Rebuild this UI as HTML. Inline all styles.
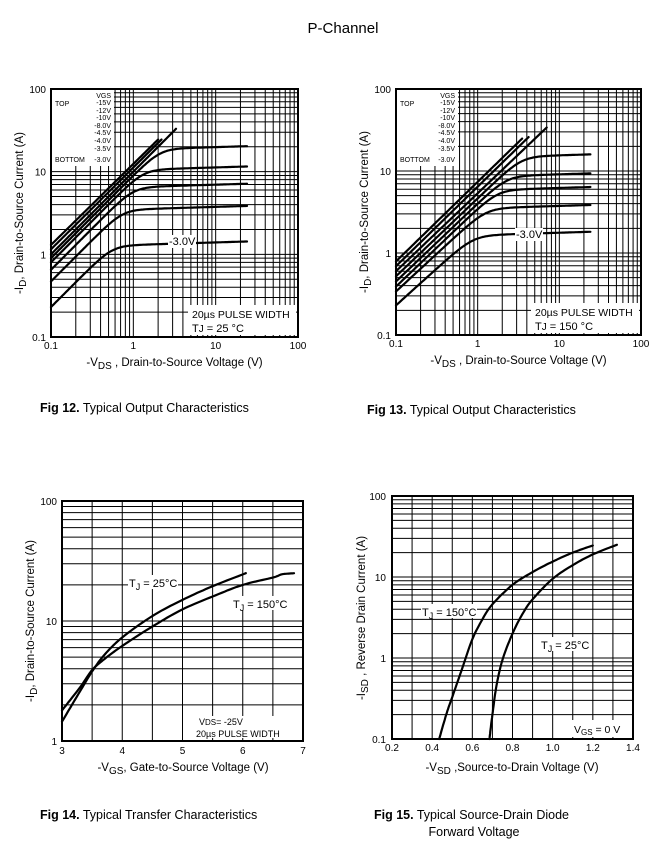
<!DOCTYPE html>
<html><head><meta charset="utf-8"><style>
html,body{margin:0;padding:0;background:#fff}
svg{display:block}
text{font-family:"Liberation Sans",Arial,sans-serif;fill:#000}
</style></head><body>
<svg id="s" width="664" height="862" viewBox="0 0 664 862" xmlns="http://www.w3.org/2000/svg"></svg>
<script>
const out=[];
const lg=Math.log10;
function line(x1,y1,x2,y2,w){out.push(`<line x1="${x1}" y1="${y1}" x2="${x2}" y2="${y2}" stroke="#000" stroke-width="${w||1}"/>`);}
function txt(x,y,s,size,anchor,extra){out.push(`<text x="${x}" y="${y}" font-size="${size}" text-anchor="${anchor||'start'}" ${extra||''}>${s}</text>`);}
function rect(x,y,w,h){out.push(`<rect x="${x}" y="${y}" width="${w}" height="${h}" fill="#fff"/>`);}
function logTicks(a,b){const r=[];for(let d=a;d<b*0.999;d*=10)for(let m=1;m<10;m++)r.push(d*m);r.push(b);return r;}
function mk(box,xl,xa,xb,yl,ya,yb){
 const fx=v=>xl?box[0]+(lg(v)-lg(xa))/(lg(xb)-lg(xa))*(box[2]-box[0]):box[0]+(v-xa)/(xb-xa)*(box[2]-box[0]);
 const fy=v=>yl?box[3]-(lg(v)-lg(ya))/(lg(yb)-lg(ya))*(box[3]-box[1]):box[3]-(v-ya)/(yb-ya)*(box[3]-box[1]);
 return {fx,fy};
}
function grid(box,c,xs,ys){
 xs.forEach(v=>{const x=c.fx(v);line(x,box[1],x,box[3],1);});
 ys.forEach(v=>{const y=c.fy(v);line(box[0],y,box[2],y,1);});
}
function frame(box){out.push(`<rect x="${box[0]}" y="${box[1]}" width="${box[2]-box[0]}" height="${box[3]-box[1]}" fill="none" stroke="#000" stroke-width="2"/>`);}
function poly(pts){out.push(`<polyline points="${pts.map(p=>p[0].toFixed(1)+','+p[1].toFixed(1)).join(' ')}" fill="none" stroke="#000" stroke-width="2.2" stroke-linejoin="round" stroke-linecap="round"/>`);}
function smooth(c,data){
 const P=data.map(d=>[c.fx(d[0]),c.fy(d[1])]);const pts=[];
 for(let i=0;i<P.length-1;i++){const p0=P[Math.max(i-1,0)],p1=P[i],p2=P[i+1],p3=P[Math.min(i+2,P.length-1)];
  for(let t=0;t<1;t+=0.1){const t2=t*t,t3=t2*t;
   pts.push([0.5*((2*p1[0])+(-p0[0]+p2[0])*t+(2*p0[0]-5*p1[0]+4*p2[0]-p3[0])*t2+(-p0[0]+3*p1[0]-3*p2[0]+p3[0])*t3),
             0.5*((2*p1[1])+(-p0[1]+p2[1])*t+(2*p0[1]-5*p1[1]+4*p2[1]-p3[1])*t2+(-p0[1]+3*p1[1]-3*p2[1]+p3[1])*t3)]);}}
 pts.push(P[P.length-1]);poly(pts);
}
function I(v,k,p,S){const lin=k*Math.pow(v/0.1,p);const n=5;const s=S*Math.pow(v,0.03);return lin/Math.pow(1+Math.pow(lin/s,n),1/n);}
function model(c,k,p,S,xend){
 const pts=[];for(let lx=-1;lx<=lg(xend)+1e-9;lx+=0.02){const v=Math.pow(10,lx);pts.push([c.fx(v),c.fy(I(v,k,p,S))]);}
 pts.push([c.fx(xend),c.fy(I(xend,k,p,S))]);
 poly(pts);
}
txt(343,33,"P-Channel",15,"middle");

function outChart(box,curves,legR,tjText,lblPos){
 const c=mk(box,true,0.1,100,true,0.1,100);
 grid(box,c,logTicks(0.1,100),logTicks(0.1,100));
 rect(box[0]+1,box[1]+1,legR-box[0]+2,76);
 curves.forEach(q=>model(c,q[0],q[1],q[2],q[3]));
 frame(box);
 txt(legR,98,"VGS",7,"end");
 const vals=["-15V","-12V","-10V","-8.0V","-4.5V","-4.0V","-3.5V"];
 const ys=[105,113,120,128,135,143,151];
 vals.forEach((v,i)=>txt(legR,ys[i],v,7,"end"));
 txt(legR,162,"-3.0V",7,"end");
 txt(box[0]+4,106,"TOP",7);
 txt(box[0]+4,162,"BOTTOM",7);
 rect(lblPos[0],lblPos[1]-10,28,13);
 txt(lblPos[0]+1,lblPos[1],"-3.0V",11);
 rect(box[2]-110,box[3]-32,108,30);
 txt(box[2]-106,box[3]-19,"20µs PULSE WIDTH",10.5);
 txt(box[2]-106,box[3]-5,tjText,11);
 [["100",0],["10",1],["1",2],["0.1",3]].forEach(a=>txt(box[0]-5,box[1]+4+a[1]*(box[3]-box[1])/3,a[0],10,"end"));
 [["0.1",0],["1",1],["10",2],["100",3]].forEach(a=>txt(box[0]+a[1]*(box[2]-box[0])/3,box[3]+12,a[0],10,"middle"));
 const cx=(box[0]+box[2])/2;
 txt(cx,box[3]+29,'-V<tspan font-size="10" dy="3">DS</tspan><tspan dy="-3"> , Drain-to-Source Voltage (V)</tspan>',11.5,"middle");
 const yx=box[0]-28,cy=(box[1]+box[3])/2;
 txt(yx,cy,'-I<tspan font-size="10" dy="3">D</tspan><tspan dy="-3">,  Drain-to-Source Current (A)</tspan>',11.5,"middle",`transform="rotate(-90 ${yx} ${cy})"`);
}
outChart([51,89,298,337],[[1.3,0.98,300,2.0],[1.15,0.99,300,2.2],[1.0,1.0,90,3.3],[0.9,1.0,18.5,24],[0.8,1.0,10.5,24],[0.65,1.0,6.5,24],[0.47,1.0,3.5,24],[0.23,1.0,1.3,24]],111,'T<tspan font-size="10">J</tspan> = 25 °C',[168,245]);
outChart([396,89,641,335],[[0.79,0.97,300,3.5],[0.69,0.97,300,4.2],[0.6,0.95,80,7],[0.52,0.95,14.5,24],[0.45,0.95,8.5,24],[0.39,0.95,5.8,24],[0.34,0.92,3.5,24],[0.23,0.9,1.65,24]],455,'T<tspan font-size="10">J</tspan> = 150 °C',[515,238]);
txt(40,412,'<tspan font-weight="bold">Fig 12.</tspan>  Typical Output Characteristics',12.5);
txt(367,414,'<tspan font-weight="bold">Fig 13.</tspan>  Typical Output Characteristics',12.5);

(function(){
 const box=[62,501,303,741];const c=mk(box,false,3,7,true,1,100);
 const xs=[];for(let v=3;v<=7.001;v+=0.5)xs.push(v);
 grid(box,c,xs,logTicks(1,100));
 smooth(c,[[3,1.45],[3.3,2.6],[3.5,3.8],[3.7,5.2],[4,7.3],[4.5,11],[5,15],[5.5,19.5],[6.05,25]]);
 smooth(c,[[3,1.8],[3.3,2.8],[3.5,3.9],[3.7,4.8],[4,6.2],[4.5,9],[5,12.5],[5.5,16],[6,20],[6.5,23],[6.65,24.5],[6.85,25]]);
 rect(128,575,50,14);txt(129,587,'T<tspan font-size="9" dy="3">J</tspan><tspan dy="-3"> = 25°C</tspan>',11);
 rect(232,596,60,14);txt(233,608,'T<tspan font-size="9" dy="3">J</tspan><tspan dy="-3"> = 150°C</tspan>',11);
 rect(195,716,104,22);
 txt(199,725,'V<tspan font-size="8">DS</tspan>= -25V',9);
 txt(196,737,'20µs PULSE WIDTH',9);
 frame(box);
 txt(57,505,"100",10,"end");txt(57,625,"10",10,"end");txt(57,745,"1",10,"end");
 [3,4,5,6,7].forEach(v=>txt(c.fx(v),754,String(v),10,"middle"));
 txt(183,771,'-V<tspan font-size="10" dy="3">GS</tspan><tspan dy="-3">, Gate-to-Source Voltage (V)</tspan>',11.5,"middle");
 const yx=34,cy=621;
 txt(yx,cy,'-I<tspan font-size="10" dy="3">D</tspan><tspan dy="-3">,  Drain-to-Source Current (A)</tspan>',11.5,"middle",`transform="rotate(-90 ${yx} ${cy})"`);
})();
(function(){
 const box=[392,496,633,739];const c=mk(box,false,0.2,1.4,true,0.1,100);
 const xs=[];for(let v=0.2;v<=1.4001;v+=0.1)xs.push(v);
 grid(box,c,xs,logTicks(0.1,100));
 smooth(c,[[0.435,0.1],[0.47,0.2],[0.5,0.33],[0.55,0.75],[0.6,1.7],[0.65,3],[0.7,4.6],[0.8,8],[0.9,11.5],[1.0,15.5],[1.1,20],[1.2,24.5]]);
 smooth(c,[[0.685,0.1],[0.7,0.2],[0.72,0.45],[0.75,0.95],[0.8,2],[0.85,3.5],[0.9,5.3],[1.0,9.5],[1.1,14],[1.2,19],[1.32,25]]);
 rect(421,604,56,14);txt(422,616,'T<tspan font-size="9" dy="3">J</tspan><tspan dy="-3"> = 150°C</tspan>',11);
 rect(540,637,52,14);txt(541,649,'T<tspan font-size="9" dy="3">J</tspan><tspan dy="-3"> = 25°C</tspan>',11);
 rect(572,720,60,17);txt(574,733,'V<tspan font-size="8" dy="2">GS</tspan><tspan dy="-2"> = 0 V</tspan>',10.5);
 frame(box);
 txt(386,500,"100",10,"end");txt(386,581,"10",10,"end");txt(386,662,"1",10,"end");txt(386,743,"0.1",10,"end");
 ["0.2","0.4","0.6","0.8","1.0","1.2","1.4"].forEach(s=>txt(c.fx(parseFloat(s)),751,s,10,"middle"));
 txt(512,771,'-V<tspan font-size="10" dy="3">SD</tspan><tspan dy="-3"> ,Source-to-Drain Voltage (V)</tspan>',11.5,"middle");
 const yx=365,cy=618;
 txt(yx,cy,'-I<tspan font-size="10" dy="3">SD</tspan><tspan dy="-3"> , Reverse Drain Current (A)</tspan>',11.5,"middle",`transform="rotate(-90 ${yx} ${cy})"`);
})();
txt(40,819,'<tspan font-weight="bold">Fig 14.</tspan>  Typical Transfer Characteristics',12.5);
txt(374,819,'<tspan font-weight="bold">Fig 15.</tspan>  Typical Source-Drain Diode',12.5);
txt(474,836,'Forward Voltage',12.5,"middle");
document.getElementById('s').innerHTML=out.join('');
</script>
</body></html>
